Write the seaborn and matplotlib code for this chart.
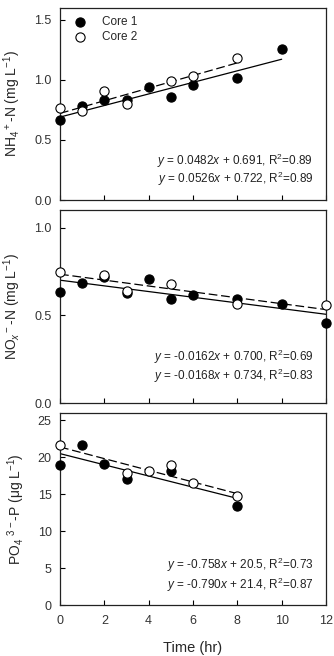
import numpy as np
import pandas as pd
import matplotlib
matplotlib.use("Agg")
import matplotlib.pyplot as plt
import seaborn as sns

# ---------------- data ----------------
# Panel 1: NH4+-N (mg/L)
nh4_c1_t = [0, 1, 2, 3, 4, 5, 6, 8, 10]
nh4_c1_y = [0.67, 0.78, 0.83, 0.83, 0.94, 0.86, 0.96, 1.02, 1.26]
nh4_c2_t = [0, 1, 2, 3, 5, 6, 8]
nh4_c2_y = [0.77, 0.74, 0.91, 0.80, 0.99, 1.03, 1.18]
nh4_fit_slope = [0.0482, 0.0526]
nh4_fit_icpt = [0.691, 0.722]
nh4_fit_xmax = [10, 8]
nh4_r2 = [0.89, 0.89]

# Panel 2: NOx--N (mg/L)
nox_c1_t = [0, 1, 2, 3, 4, 5, 6, 8, 10, 12]
nox_c1_y = [0.634, 0.686, 0.719, 0.625, 0.706, 0.592, 0.617, 0.590, 0.563, 0.456]
nox_c2_t = [0, 2, 3, 5, 8, 12]
nox_c2_y = [0.748, 0.731, 0.640, 0.679, 0.563, 0.556]
nox_fit_slope = [-0.0162, -0.0168]
nox_fit_icpt = [0.700, 0.734]
nox_fit_xmax = [12, 12]
nox_r2 = [0.69, 0.83]

# Panel 3: PO4 3--P (ug/L)
po4_c1_t = [0, 1, 2, 3, 5, 8]
po4_c1_y = [19.0, 21.6, 19.05, 17.0, 18.1, 13.4]
po4_c2_t = [0, 3, 4, 5, 6, 8]
po4_c2_y = [21.7, 17.9, 18.1, 18.9, 16.5, 14.8]
po4_fit_slope = [-0.758, -0.790]
po4_fit_icpt = [20.5, 21.4]
po4_fit_xmax = [8, 8]
po4_r2 = [0.73, 0.87]

series_names = ["Core 1", "Core 2"]
x_ticks = [0, 2, 4, 6, 8, 10, 12]

# ---------------- style ----------------
sns.set_style("ticks")
plt.rcParams["font.family"] = ["Liberation Sans", "DejaVu Sans"]
plt.rcParams["mathtext.fontset"] = "custom"
plt.rcParams["mathtext.rm"] = "Liberation Sans"
plt.rcParams["mathtext.it"] = "Liberation Sans:italic"
plt.rcParams["mathtext.bf"] = "Liberation Sans:bold"

fig = plt.figure(figsize=(3.34, 6.56), dpi=100)
L, W = 60 / 334, 266 / 334
H = 656
ax1 = fig.add_axes([L, 1 - 200 / H, W, 192 / H])
ax2 = fig.add_axes([L, 1 - 403 / H, W, 193 / H])
ax3 = fig.add_axes([L, 1 - 605 / H, W, 192 / H])

panels = [
    dict(ax=ax1, c1=(nh4_c1_t, nh4_c1_y), c2=(nh4_c2_t, nh4_c2_y),
         slope=nh4_fit_slope, icpt=nh4_fit_icpt, xmax=nh4_fit_xmax, r2=nh4_r2,
         ylim=(0, 1.6), yticks=[0.0, 0.5, 1.0, 1.5], fmt="{:.1f}",
         ylabel="NH$_4$$^+$-N (mg L$^{-1}$)", eqy=(0.202, 0.112), dec=(4, 3)),
    dict(ax=ax2, c1=(nox_c1_t, nox_c1_y), c2=(nox_c2_t, nox_c2_y),
         slope=nox_fit_slope, icpt=nox_fit_icpt, xmax=nox_fit_xmax, r2=nox_r2,
         ylim=(0, 1.1), yticks=[0.0, 0.5, 1.0], fmt="{:.1f}",
         ylabel="NO$_x$$^-$-N (mg L$^{-1}$)", eqy=(0.237, 0.138), dec=(4, 3)),
    dict(ax=ax3, c1=(po4_c1_t, po4_c1_y), c2=(po4_c2_t, po4_c2_y),
         slope=po4_fit_slope, icpt=po4_fit_icpt, xmax=po4_fit_xmax, r2=po4_r2,
         ylim=(0, 26), yticks=[0, 5, 10, 15, 20, 25], fmt="{:d}",
         ylabel="PO$_4$ $^{3-}$-P (\u03bcg L$^{-1}$)", eqy=(0.209, 0.106), dec=(3, 1)),
]

for i, p in enumerate(panels):
    ax = p["ax"]
    # regression lines
    for k, ls in enumerate(["-", (0, (7, 3))]):
        xs = np.array([0, p["xmax"][k]], dtype=float)
        ys = p["slope"][k] * xs + p["icpt"][k]
        ax.plot(xs, ys, color="black", lw=0.9, linestyle=ls, zorder=2)
    # points
    df1 = pd.DataFrame({"t": p["c1"][0], "v": p["c1"][1]})
    df2 = pd.DataFrame({"t": p["c2"][0], "v": p["c2"][1]})
    sns.scatterplot(data=df1, x="t", y="v", ax=ax, s=44, color="black",
                    edgecolor="black", linewidth=0.8, zorder=3,
                    label=series_names[0], clip_on=False)
    sns.scatterplot(data=df2, x="t", y="v", ax=ax, s=44, facecolor="white",
                    edgecolor="black", linewidth=0.8, zorder=4,
                    label=series_names[1], clip_on=False)
    ax.set_xlim(0, 12)
    ax.set_ylim(*p["ylim"])
    ax.set_xticks(x_ticks)
    ax.set_yticks(p["yticks"])
    ax.set_yticklabels([p["fmt"].format(v) for v in p["yticks"]])
    ax.tick_params(direction="in", length=3.5, width=0.8, labelsize=9,
                   colors="black", labelcolor="#333333")
    ax.tick_params(axis="y", pad=6)
    ax.tick_params(axis="x", pad=7)
    for sp in ax.spines.values():
        sp.set_linewidth(0.9)
        sp.set_color("#222222")
    ax.set_ylabel(p["ylabel"], fontsize=10, labelpad=8)
    if i < 2:
        ax.set_xticklabels([])
        ax.set_xlabel("")
    else:
        ax.set_xticklabels([str(v) for v in x_ticks])
        ax.set_xlabel("Time (hr)", fontsize=10.5, labelpad=10)
    # equations
    ds, di = p["dec"]
    for k in range(2):
        s = p["slope"][k]
        c = p["icpt"][k]
        txt = (r"$\it{y}$" + " = " + f"{s:.{ds}f}" + r"$\it{x}$" + " + " +
               f"{c:.{di}f}" + ", R$^2$=" + f"{p['r2'][k]:.2f}")
        ax.text(0.952, p["eqy"][k], txt, transform=ax.transAxes, ha="right",
                va="center", fontsize=8.5, color="#222222")
    if i == 0:
        ax.legend(loc="upper left", frameon=False, fontsize=8.5,
                  handletextpad=0.9, borderaxespad=0.3, labelspacing=0.2,
                  markerscale=1.0)
    else:
        leg = ax.get_legend()
        if leg is not None:
            leg.remove()

fig.savefig("out.png", dpi=100)
